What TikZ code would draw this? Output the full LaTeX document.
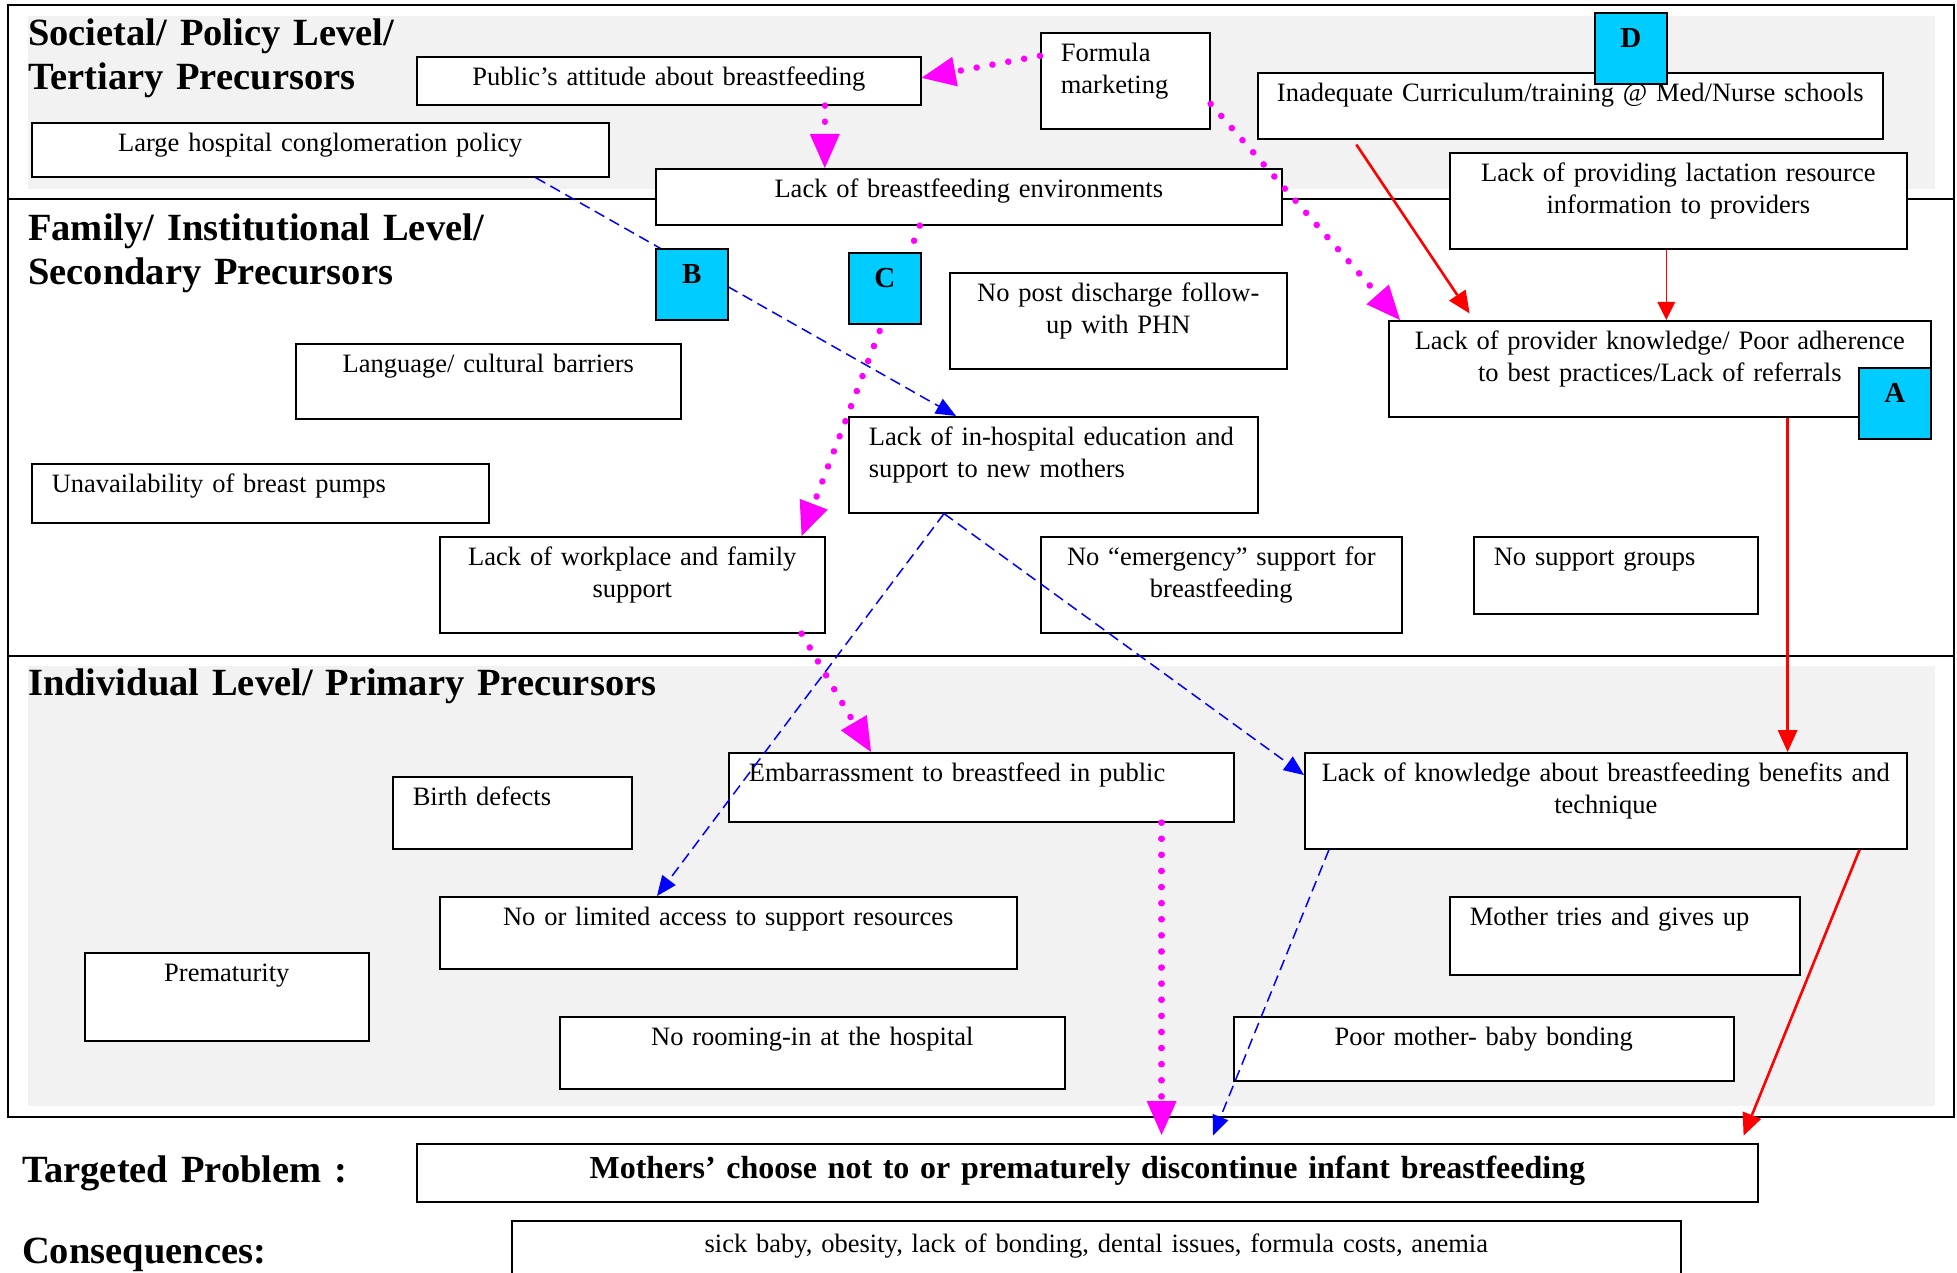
\documentclass[tikz,border=0pt]{standalone}
\usepackage{fontspec}
\setmainfont{Liberation Serif}
\usetikzlibrary{arrows.meta}
\definecolor{panelgray}{HTML}{F2F2F2}
\definecolor{tagcyan}{HTML}{00CCFF}
\definecolor{dotpink}{RGB}{255,0,255}
\definecolor{linered}{RGB}{255,0,0}
\definecolor{lineblue}{RGB}{0,0,255}

\begin{document}
\begin{tikzpicture}[x=1pt, y=-1pt,
  cell/.style={draw, line width=1.6pt, fill=white, anchor=north west, inner ysep=0pt, text height=29pt, font=\fontsize{26.5pt}{32pt}\selectfont},
  cbox/.style 2 args={cell, align=center, inner xsep=10pt, text width=#1pt, text depth=#2pt},
  lbox/.style 2 args={cell, align=left, inner xsep=20pt, text width=#1pt, text depth=#2pt},
  lettag/.style={draw, line width=1.6pt, fill=tagcyan, anchor=north west, inner sep=0pt, text width=72pt, align=center, text height=35pt, text depth=36pt, font=\fontsize{29pt}{32pt}\selectfont\bfseries},
  lvl/.style={anchor=north west, inner sep=0pt, text width=900pt, align=left, text height=0pt, text depth=0pt, font=\fontsize{38.5pt}{44pt}\selectfont\bfseries},
  pinkdots/.style={draw=dotpink, line width=6.5pt, line cap=round, dash pattern=on 0.1pt off 16pt, -{Triangle[length=34pt, width=30pt, line width=0pt]}},
  redline/.style={draw=linered, line width=2.6pt, -{Triangle[length=22pt, width=20pt, line width=0pt]}},
  blueline/.style={draw=lineblue, line width=1.5pt, dash pattern=on 11pt off 6pt, -{Triangle[length=20pt, width=17pt, line width=0pt]}}]
  \useasboundingbox (0,0) rectangle (1957,1273);

  \fill[panelgray] (28,16) rectangle (1935,189);
  \fill[panelgray] (28,666) rectangle (1935,1106);
  \draw[line width=2pt] (7.5,5) rectangle (1954,1117);
  \draw[line width=2pt] (7.5,199) -- (1954,199)
                        (7.5,656) -- (1954,656);

  \node[lvl] (lv1) at (28,45) {Societal/ Policy Level/\\Tertiary Precursors};
  \node[lvl] (lv2) at (28,240) {Family/ Institutional Level/\\Secondary Precursors};
  \node[lvl] (lv3) at (28,695) {Individual Level/ Primary Precursors};
  \node[lvl] (tgt) at (22,1182) {Targeted Problem :};
  \node[lvl] (csq) at (22,1263) {Consequences:};

  \node[cbox={484}{19}] (pa) at (416,56) {Public’s attitude about breastfeeding};
  \node[lbox={129}{67}] (fm) at (1040,32) {Formula\\marketing};
  \node[cbox={605}{37}] (ic) at (1257,72) {Inadequate Curriculum/training @ Med/Nurse schools};
  \node[cbox={557}{25}] (lh) at (31,122) {Large hospital conglomeration policy};
  \node[cbox={606}{27}] (be) at (655,168) {Lack of breastfeeding environments};
  \node[cbox={437}{67}] (lp) at (1449,152) {Lack of providing lactation resource\\information to providers};

  \node[cbox={317}{67}] (pd) at (949,272) {No post discharge follow-\\up with PHN};
  \node[cbox={522}{67}] (pk) at (1388,320) {Lack of provider knowledge/ Poor adherence\\to best practices/Lack of referrals};
  \node[cbox={365}{46}] (lc) at (295,343) {Language/ cultural barriers};
  \node[lbox={417}{30}] (up) at (31,463) {Unavailability of breast pumps};
  \node[lbox={369}{67}] (ih) at (848,416) {Lack of in-hospital education and\\support to new mothers};
  \node[cbox={365}{67}] (wf) at (439,536) {Lack of workplace and family\\support};
  \node[cbox={341}{67}] (es) at (1040,536) {No “emergency” support for\\breastfeeding};
  \node[lbox={244}{48}] (sg) at (1473,536) {No support groups};

  \node[lbox={465}{40}] (em) at (728,752) {Embarrassment to breastfeed in public};
  \node[cbox={582}{67}] (lk) at (1304,752) {Lack of knowledge about breastfeeding benefits and\\technique};
  \node[lbox={199}{43}] (bd) at (392,776) {Birth defects};
  \node[cbox={557}{43}] (la) at (439,896) {No or limited access to support resources};
  \node[lbox={310}{49}] (mt) at (1449,896) {Mother tries and gives up};
  \node[cbox={264}{59}] (pm) at (84,952) {Prematurity};
  \node[cbox={485}{43}] (nr) at (559,1016) {No rooming-in at the hospital};
  \node[cbox={480}{35}] (pb) at (1233,1016) {Poor mother- baby bonding};

  \node[cbox={1321}{23}, text height=35pt, font=\fontsize{32pt}{36pt}\selectfont\bfseries] (tp) at (416,1143) {Mothers’ choose not to or prematurely discontinue infant breastfeeding};
  \node[cbox={1149}{28}, text height=32pt] (cq) at (511,1220) {sick baby, obesity, lack of bonding, dental issues, formula costs, anemia};

  \draw[pinkdots] ([yshift=25pt]fm.west) -- ([yshift=3pt]pa.east);
  \draw[pinkdots] ([xshift=156pt]pa.south) -- ([xshift=-144pt]be.north);
  \draw[pinkdots] ([yshift=-23pt]fm.east) -- ([xshift=12pt]pk.north west);
  \draw[pinkdots] ([xshift=-49pt]be.south) -- ([xshift=-24pt]wf.north east);
  \draw[pinkdots] ([xshift=-24pt]wf.south east) -- ([xshift=143pt]em.north west);
  \draw[pinkdots, shorten >=8pt] ([xshift=-73pt]em.south east) -- ([xshift=-73pt]em.south east |- tp.north);

  \draw[redline, shorten <=6pt, shorten >=8pt] ([xshift=96pt]ic.south west) -- ([xshift=86pt]pk.north west);
  \draw[redline, line width=1.3pt, -{Triangle[length=18pt, width=18pt, line width=0pt]}] ([xshift=-12pt]lp.south) -- ([xshift=-12pt]lp.south |- pk.north);
  \draw[redline] ([xshift=-144pt]pk.south east) -- ([xshift=-144pt]pk.south east |- lk.north);
  \draw[redline, shorten >=8pt] ([xshift=-48pt]lk.south east) -- ([xshift=-18pt]tp.north east);

  \draw[blueline] ([xshift=-74pt]lh.south east) -- ([xshift=108pt]ih.north west);
  \draw[blueline] ([xshift=96pt]ih.south west) -- ([xshift=218pt]la.north west);
  \draw[blueline] ([xshift=96pt]ih.south west) -- ([yshift=-23pt]lk.north west);
  \draw[blueline, shorten >=8pt] ([xshift=25pt]lk.south west) -- ([xshift=794pt]tp.north west);

  \node[lettag] (B) at (655,248) {B};
  \node[lettag] (C) at (848,252) {C};
  \node[lettag] (A) at (1858,367) {A};
  \node[lettag] (D) at (1594,12) {D};
\end{tikzpicture}
\end{document}
